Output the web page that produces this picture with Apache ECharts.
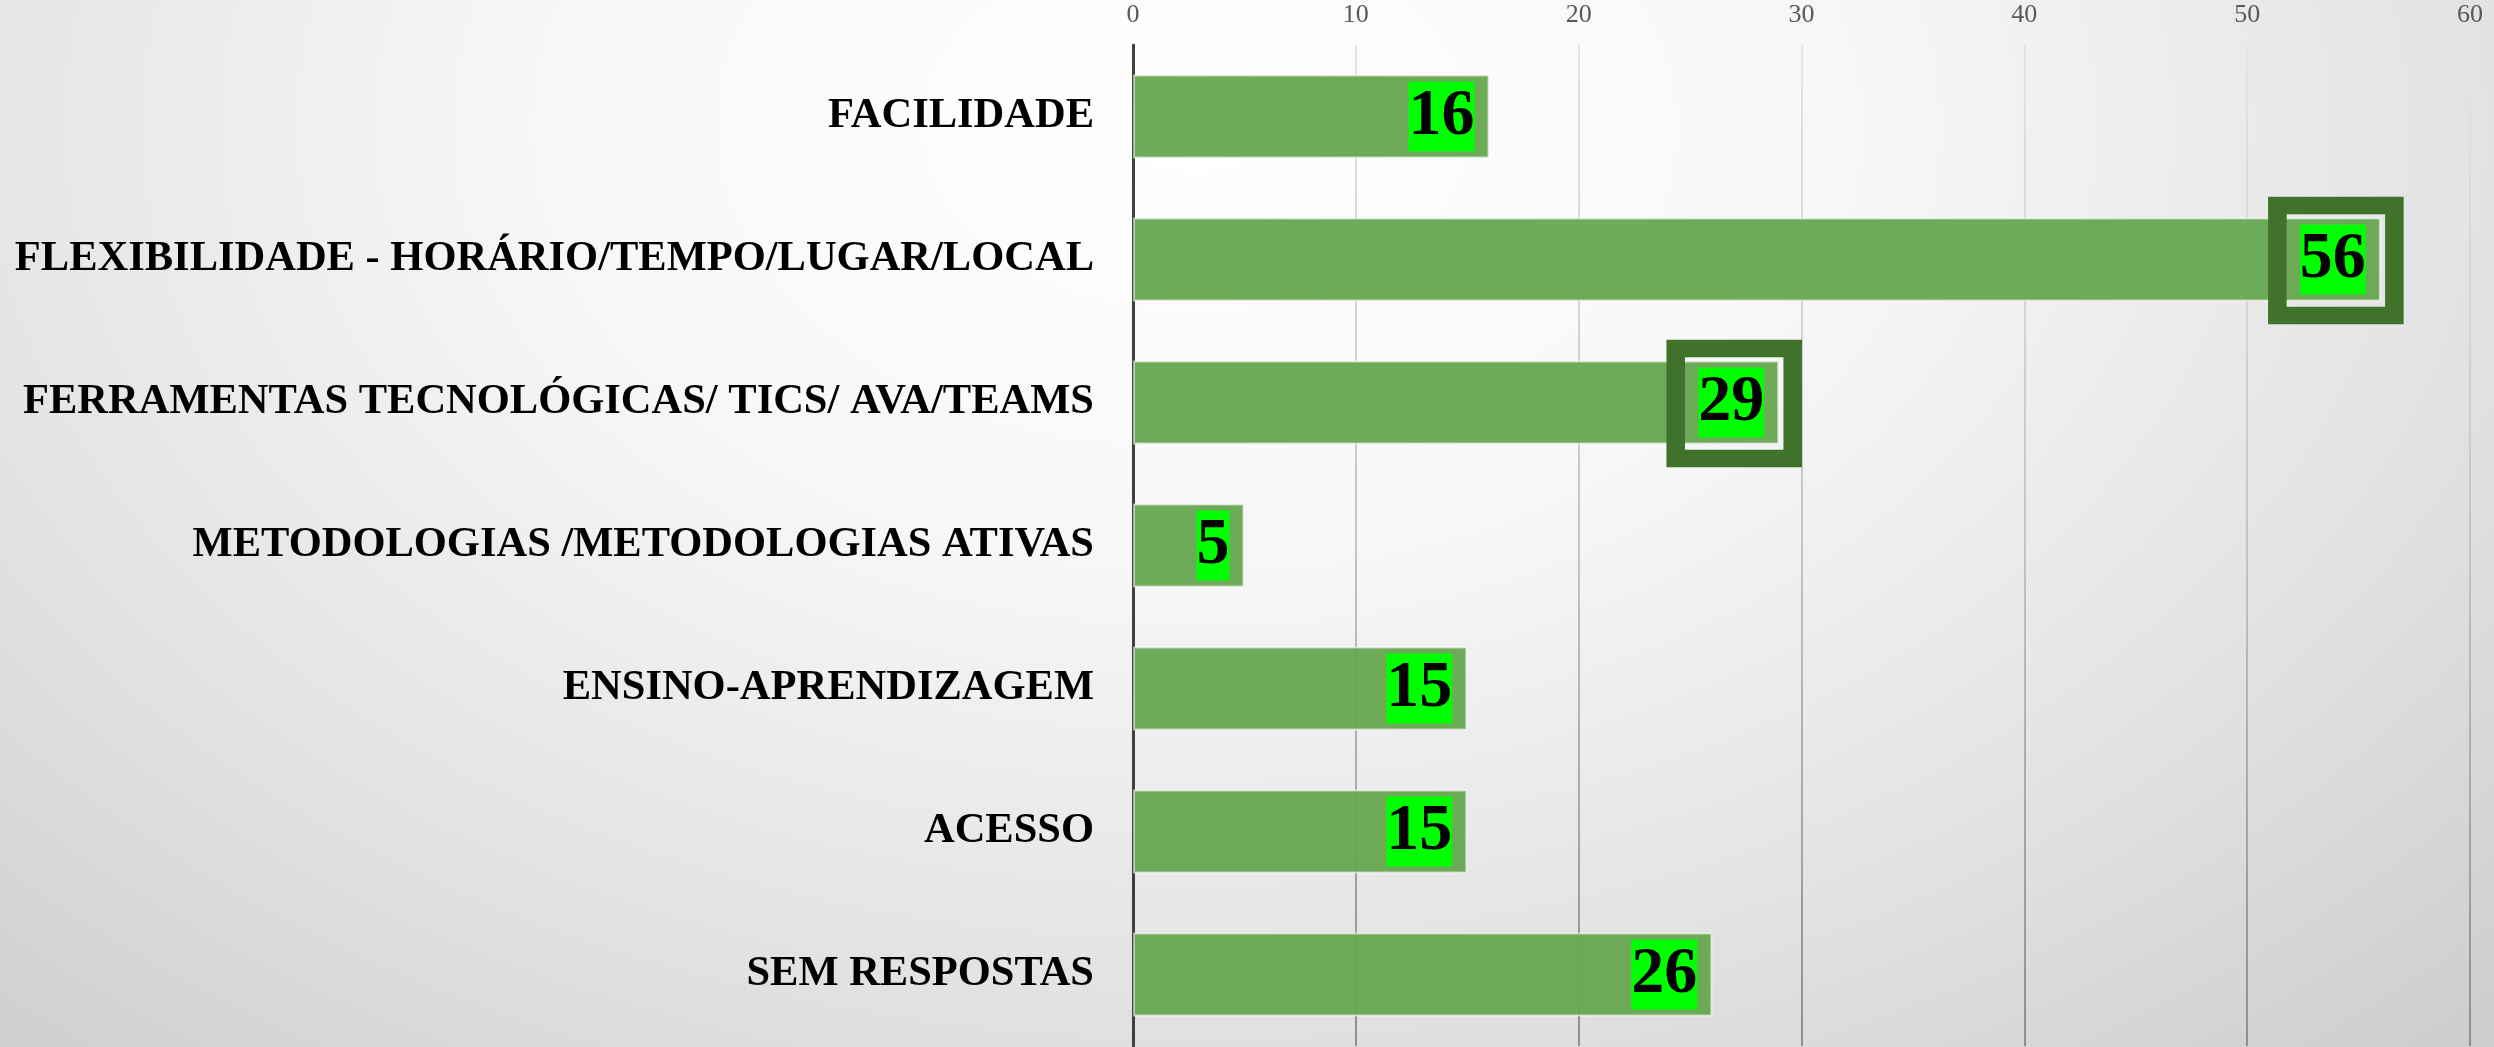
<!DOCTYPE html>
<html>
<head>
<meta charset="utf-8">
<script src="https://cdn.jsdelivr.net/npm/echarts@6/dist/echarts.min.js"></script>
<style>
  html, body { margin: 0; padding: 0; }
  #chart {
    width: 2494px; height: 1047px;
    background: radial-gradient(ellipse 75% 120% at 48% 12%, #ffffff 0%, #f7f7f7 35%, #e2e2e2 70%, #cdcdcd 100%);
  }
</style>
</head>
<body>
<div id="chart"></div>
<script>
// Categories, top to bottom
const categories = [
  'FACILIDADE',
  'FLEXIBILIDADE - HORÁRIO/TEMPO/LUGAR/LOCAL',
  'FERRAMENTAS TECNOLÓGICAS/ TICS/ AVA/TEAMS',
  'METODOLOGIAS /METODOLOGIAS ATIVAS',
  'ENSINO-APRENDIZAGEM',
  'ACESSO',
  'SEM RESPOSTAS'
];
// Number of answers per category
const counts = [16, 56, 29, 5, 15, 15, 26];
// Categories whose value is framed
const framed = ['FLEXIBILIDADE - HORÁRIO/TEMPO/LUGAR/LOCAL', 'FERRAMENTAS TECNOLÓGICAS/ TICS/ AVA/TEAMS'];
// Value axis ticks
const tickMin = 0, tickMax = 60, tickStep = 10;

const chart = echarts.init(document.getElementById('chart'), null, { renderer: 'canvas' });

const frameMarks = framed.map(name => ({
  coord: [counts[categories.indexOf(name)], name],
  symbol: 'rect',
  symbolSize: [117, 110],
  symbolOffset: [-45, 1],
  itemStyle: { color: 'rgba(0,0,0,0)', borderColor: '#41722c', borderWidth: 18 }
}));

chart.setOption({
  backgroundColor: 'transparent',
  animation: false,
  grid: { left: 1133, right: 24, top: 45, bottom: 1, containLabel: false },
  xAxis: {
    type: 'value',
    position: 'top',
    min: tickMin, max: tickMax, interval: tickStep,
    axisLine: { show: false },
    axisTick: { show: false },
    axisLabel: { margin: 17, color: '#595959', fontFamily: 'Liberation Serif', fontSize: 26 },
    splitLine: {
      show: true,
      lineStyle: {
        width: 2,
        color: {
          type: 'linear', x: 0, y: 45, x2: 0, y2: 1047, global: true,
          colorStops: [
            { offset: 0, color: '#e4e4e4' },
            { offset: 0.5, color: '#c4c4c4' },
            { offset: 1, color: '#8e8e8e' }
          ]
        }
      }
    }
  },
  yAxis: {
    type: 'category',
    data: categories,
    inverse: true,
    axisLine: { show: true, lineStyle: { color: '#404040', width: 3 } },
    axisTick: { show: false },
    axisLabel: {
      margin: 39, color: '#000000',
      fontFamily: 'Liberation Serif', fontWeight: 'bold', fontSize: 42.5
    }
  },
  series: [{
    type: 'bar',
    data: counts,
    barWidth: 84,
    itemStyle: {
      color: 'rgba(104,168,82,0.96)',
      borderColor: 'rgba(255,255,255,0.55)',
      borderWidth: 2
    },
    label: {
      show: true,
      position: 'insideRight',
      distance: 15,
      color: '#000000',
      backgroundColor: '#00ff00',
      fontFamily: 'Liberation Serif',
      fontWeight: 'bold',
      fontSize: 66,
      lineHeight: 70,
      padding: [0, 0, 0, 0]
    },
    markPoint: {
      silent: true,
      label: { show: false },
      data: frameMarks
    }
  }]
});
</script>
</body>
</html>
